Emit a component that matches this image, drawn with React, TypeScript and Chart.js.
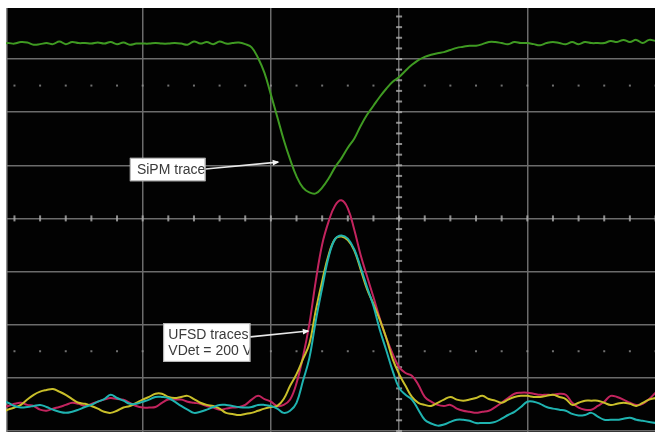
import React, { useEffect, useRef } from "react";
import { Chart, registerables } from "chart.js";

Chart.register(...registerables);

// Time axis in horizontal divisions (0 = trigger / centre of screen)
const timeDiv = [
  -3.10, -3.05, -3.00, -2.95, -2.90, -2.85, -2.80, -2.75, -2.70, -2.65,
  -2.60, -2.55, -2.50, -2.45, -2.40, -2.35, -2.30, -2.25, -2.20, -2.15,
  -2.10, -2.05, -2.00, -1.95, -1.90, -1.85, -1.80, -1.75, -1.70, -1.65,
  -1.60, -1.55, -1.50, -1.45, -1.40, -1.35, -1.30, -1.25, -1.20, -1.15,
  -1.10, -1.05, -1.00, -0.95, -0.90, -0.85, -0.80, -0.75, -0.70, -0.65,
  -0.60, -0.55, -0.50, -0.45, -0.40, -0.35, -0.30, -0.25, -0.20, -0.15,
  -0.10, -0.05, 0.00, 0.05, 0.10, 0.15, 0.20, 0.25, 0.30, 0.35,
  0.40, 0.45, 0.50, 0.55, 0.60, 0.65, 0.70, 0.75, 0.80, 0.85,
  0.90, 0.95, 1.00, 1.05, 1.10, 1.15, 1.20, 1.25, 1.30, 1.35,
  1.40, 1.45, 1.50, 1.55, 1.60, 1.65, 1.70, 1.75, 1.80, 1.85,
  1.90, 1.95, 2.00,
];

// Vertical position in divisions
const sipmTrace = [
  3.29, 3.30, 3.29, 3.32, 3.31, 3.27, 3.28, 3.30, 3.28, 3.33,
  3.28, 3.32, 3.30, 3.30, 3.29, 3.31, 3.29, 3.32, 3.28, 3.31,
  3.27, 3.29, 3.29, 3.29, 3.30, 3.29, 3.29, 3.30, 3.29, 3.27,
  3.33, 3.29, 3.32, 3.28, 3.33, 3.29, 3.30, 3.31, 3.28, 3.22,
  3.02, 2.74, 2.33, 1.91, 1.48, 1.11, 0.79, 0.58, 0.49, 0.47,
  0.58, 0.75, 0.96, 1.13, 1.33, 1.50, 1.74, 1.95, 2.12, 2.29,
  2.44, 2.57, 2.66, 2.78, 2.89, 2.98, 3.04, 3.08, 3.11, 3.13,
  3.17, 3.21, 3.23, 3.25, 3.25, 3.28, 3.32, 3.32, 3.30, 3.28,
  3.32, 3.30, 3.30, 3.28, 3.26, 3.30, 3.32, 3.30, 3.28, 3.32,
  3.28, 3.32, 3.30, 3.30, 3.30, 3.34, 3.32, 3.36, 3.32, 3.36,
  3.30, 3.36, 3.34,
];

const ufsdMagenta = [
  -3.55, -3.53, -3.49, -3.47, -3.51, -3.53, -3.60, -3.62, -3.58, -3.55,
  -3.51, -3.47, -3.49, -3.53, -3.49, -3.45, -3.41, -3.38, -3.40, -3.41,
  -3.47, -3.53, -3.56, -3.56, -3.55, -3.47, -3.41, -3.41, -3.41, -3.45,
  -3.47, -3.49, -3.53, -3.56, -3.60, -3.58, -3.56, -3.55, -3.51, -3.41,
  -3.34, -3.40, -3.45, -3.53, -3.51, -3.41, -3.10, -2.61, -1.99, -1.18,
  -0.49, -0.06, 0.24, 0.34, 0.19, -0.21, -0.69, -1.09, -1.48, -1.89,
  -2.25, -2.55, -2.80, -2.91, -2.96, -3.13, -3.36, -3.45, -3.51, -3.53,
  -3.51, -3.58, -3.62, -3.64, -3.66, -3.64, -3.62, -3.55, -3.47, -3.38,
  -3.30, -3.28, -3.28, -3.30, -3.32, -3.32, -3.32, -3.30, -3.32, -3.47,
  -3.56, -3.60, -3.60, -3.53, -3.45, -3.34, -3.36, -3.41, -3.47, -3.51,
  -3.49, -3.40, -3.28,
];

const ufsdYellow = [
  -3.66, -3.60, -3.56, -3.51, -3.41, -3.32, -3.26, -3.23, -3.21, -3.26,
  -3.32, -3.40, -3.47, -3.49, -3.53, -3.58, -3.64, -3.66, -3.62, -3.56,
  -3.53, -3.47, -3.41, -3.36, -3.30, -3.30, -3.36, -3.38, -3.36, -3.34,
  -3.40, -3.47, -3.51, -3.53, -3.58, -3.66, -3.68, -3.70, -3.68, -3.66,
  -3.62, -3.58, -3.55, -3.53, -3.40, -3.15, -2.93, -2.65, -2.36, -1.73,
  -1.18, -0.69, -0.39, -0.34, -0.41, -0.60, -0.96, -1.33, -1.61, -1.91,
  -2.25, -2.65, -2.93, -3.15, -3.36, -3.47, -3.51, -3.53, -3.47, -3.41,
  -3.36, -3.41, -3.43, -3.41, -3.38, -3.34, -3.40, -3.43, -3.47, -3.41,
  -3.36, -3.34, -3.34, -3.36, -3.36, -3.34, -3.32, -3.36, -3.40, -3.51,
  -3.47, -3.43, -3.43, -3.43, -3.47, -3.51, -3.49, -3.47, -3.49, -3.53,
  -3.47, -3.41, -3.38,
];

const ufsdCyan = [
  -3.43, -3.47, -3.53, -3.56, -3.55, -3.53, -3.51, -3.55, -3.60, -3.64,
  -3.66, -3.64, -3.60, -3.55, -3.51, -3.45, -3.40, -3.32, -3.38, -3.43,
  -3.49, -3.49, -3.45, -3.41, -3.36, -3.36, -3.38, -3.45, -3.53, -3.60,
  -3.66, -3.64, -3.60, -3.55, -3.51, -3.51, -3.53, -3.55, -3.56, -3.55,
  -3.51, -3.51, -3.53, -3.58, -3.66, -3.62, -3.47, -3.06, -2.63, -1.93,
  -1.31, -0.73, -0.39, -0.32, -0.38, -0.58, -0.92, -1.29, -1.65, -2.10,
  -2.48, -2.87, -3.19, -3.32, -3.41, -3.60, -3.79, -3.86, -3.90, -3.88,
  -3.83, -3.79, -3.79, -3.81, -3.85, -3.85, -3.85, -3.83, -3.77, -3.70,
  -3.64, -3.55, -3.45, -3.45, -3.49, -3.55, -3.58, -3.60, -3.62, -3.68,
  -3.71, -3.70, -3.66, -3.73, -3.79, -3.79, -3.79, -3.77, -3.75, -3.79,
  -3.81, -3.83, -3.85,
];

// Callout labels
const calloutLines1 = ["SiPM trace"];
const calloutLines2 = ["UFSD traces", "VDet = 200 V"];

const callouts = [
  {
    lines: calloutLines1,
    box: { x1: -2.10, y1: 1.14, x2: -1.51, y2: 0.70 },
    text: { x: -2.045, y: [0.91] },
    arrow: { fx: -1.51, fy: 0.93, tx: -0.945, ty: 1.06 },
  },
  {
    lines: calloutLines2,
    box: { x1: -1.84, y1: -1.97, x2: -1.16, y2: -2.70 },
    text: { x: -1.80, y: [-2.19, -2.49] },
    arrow: { fx: -1.16, fy: -2.23, tx: -0.71, ty: -2.12 },
  },
];

const GRID = "#6b6b6b";

const graticulePlugin = {
  id: "graticule",
  beforeDraw(chart: any) {
    const { ctx, width, height } = chart;
    ctx.save();
    ctx.fillStyle = "#020202";
    ctx.fillRect(0, 0, width, height);
    ctx.restore();
  },
  beforeDatasetsDraw(chart: any) {
    const { ctx, scales, height } = chart;
    const xs = scales.x;
    const ys = scales.y;
    ctx.save();
    ctx.fillStyle = "rgba(175,175,175,0.8)";
    const cx = xs.getPixelForValue(0);
    const cy = ys.getPixelForValue(0);
    // minor ticks on horizontal centre line
    for (let i = -16; i <= 10; i++) {
      const px = xs.getPixelForValue(i * 0.2);
      ctx.fillRect(px - 1, cy - 3, 2, 6);
    }
    // minor ticks on vertical centre line
    for (let i = -20; i <= 20; i++) {
      const py = ys.getPixelForValue(i * 0.2);
      ctx.fillRect(cx - 3, py - 1, 6, 2);
    }
    // dotted rows
    ctx.fillStyle = "rgba(150,150,150,0.75)";
    for (const lvl of [2.5, -2.5]) {
      const py = ys.getPixelForValue(lvl);
      for (let i = -16; i <= 10; i++) {
        const px = xs.getPixelForValue(i * 0.2);
        ctx.fillRect(px - 1, py - 1, 2, 2);
      }
    }
    // left border of the screen
    ctx.fillStyle = "#8a8a8a";
    ctx.fillRect(0, 0, 1.5, height);
    ctx.restore();
  },
  afterDatasetsDraw(chart: any) {
    const { ctx, scales } = chart;
    const xs = scales.x;
    const ys = scales.y;
    ctx.save();
    for (const c of callouts) {
      const bx1 = xs.getPixelForValue(c.box.x1);
      const bx2 = xs.getPixelForValue(c.box.x2);
      const by1 = ys.getPixelForValue(c.box.y1);
      const by2 = ys.getPixelForValue(c.box.y2);
      // arrow
      const fx = xs.getPixelForValue(c.arrow.fx);
      const fy = ys.getPixelForValue(c.arrow.fy);
      const tx = xs.getPixelForValue(c.arrow.tx);
      const ty = ys.getPixelForValue(c.arrow.ty);
      ctx.strokeStyle = "#e8e8e8";
      ctx.lineWidth = 1.6;
      ctx.beginPath();
      ctx.moveTo(fx, fy);
      ctx.lineTo(tx, ty);
      ctx.stroke();
      const ang = Math.atan2(ty - fy, tx - fx);
      ctx.fillStyle = "#f4f4f4";
      ctx.beginPath();
      ctx.moveTo(tx + Math.cos(ang) * 1.5, ty + Math.sin(ang) * 1.5);
      ctx.lineTo(tx - Math.cos(ang - 0.5) * 6, ty - Math.sin(ang - 0.5) * 6);
      ctx.lineTo(tx - Math.cos(ang + 0.5) * 6, ty - Math.sin(ang + 0.5) * 6);
      ctx.closePath();
      ctx.fill();
      // box
      ctx.fillStyle = "#ffffff";
      ctx.fillRect(bx1, by1, bx2 - bx1, by2 - by1);
      ctx.strokeStyle = "#b0b0b0";
      ctx.lineWidth = 1;
      ctx.strokeRect(bx1 + 0.5, by1 + 0.5, bx2 - bx1 - 1, by2 - by1 - 1);
      // text, clipped to the box
      ctx.save();
      ctx.beginPath();
      ctx.rect(bx1, by1, bx2 - bx1 - 1, by2 - by1);
      ctx.clip();
      ctx.fillStyle = "#3a3a3a";
      ctx.font = '14px "Liberation Sans", Arial, sans-serif';
      ctx.textBaseline = "middle";
      ctx.textAlign = "left";
      const tx0 = xs.getPixelForValue(c.text.x);
      c.lines.forEach((line: string, i: number) => {
        ctx.fillText(line, tx0, ys.getPixelForValue(c.text.y[i]));
      });
      ctx.restore();
    }
    ctx.restore();
  },
};

function toPoints(vals: number[]) {
  return timeDiv.map((t, i) => ({ x: t, y: vals[i] }));
}

export default function App() {
  const ref = useRef<HTMLCanvasElement | null>(null);

  useEffect(() => {
    if (!ref.current) return;
    const lineStyle = {
      pointRadius: 0,
      borderWidth: 2,
      tension: 0.4,
      fill: false,
    };
    const chart = new Chart(ref.current, {
      type: "line",
      data: {
        datasets: [
          { label: "SiPM", data: toPoints(sipmTrace), borderColor: "#3f9a22", ...lineStyle },
          { label: "UFSD cyan", data: toPoints(ufsdCyan), borderColor: "#1fb3b0", ...lineStyle },
          { label: "UFSD yellow", data: toPoints(ufsdYellow), borderColor: "#c9bf2a", ...lineStyle },
          { label: "UFSD magenta", data: toPoints(ufsdMagenta), borderColor: "#c2245e", ...lineStyle },
        ],
      },
      options: {
        responsive: false,
        animation: false,
        events: [],
        layout: { padding: 0 },
        plugins: {
          legend: { display: false },
          tooltip: { enabled: false },
          title: { display: false },
        },
        scales: {
          x: {
            type: "linear",
            min: -3.066,
            max: 1.996,
            ticks: { display: false, stepSize: 1, includeBounds: false },
            grid: {
              drawTicks: false,
              lineWidth: 1.5,
              color: (c: any) =>
                c.tick && Math.abs(c.tick.value + 3) < 1e-6 ? "rgba(0,0,0,0)" : GRID,
            },
            border: { display: false },
          },
          y: {
            type: "linear",
            min: -4.02,
            max: 3.96,
            ticks: { display: false, stepSize: 1, includeBounds: false },
            grid: { drawTicks: false, lineWidth: 1.5, color: GRID },
            border: { display: false },
          },
        },
      },
      plugins: [graticulePlugin],
    });
    return () => chart.destroy();
  }, []);

  return (
    <div style={{ position: "absolute", left: 6, top: 8, width: 649, height: 424 }}>
      <canvas ref={ref} width={649} height={424} style={{ display: "block" }} />
    </div>
  );
}
